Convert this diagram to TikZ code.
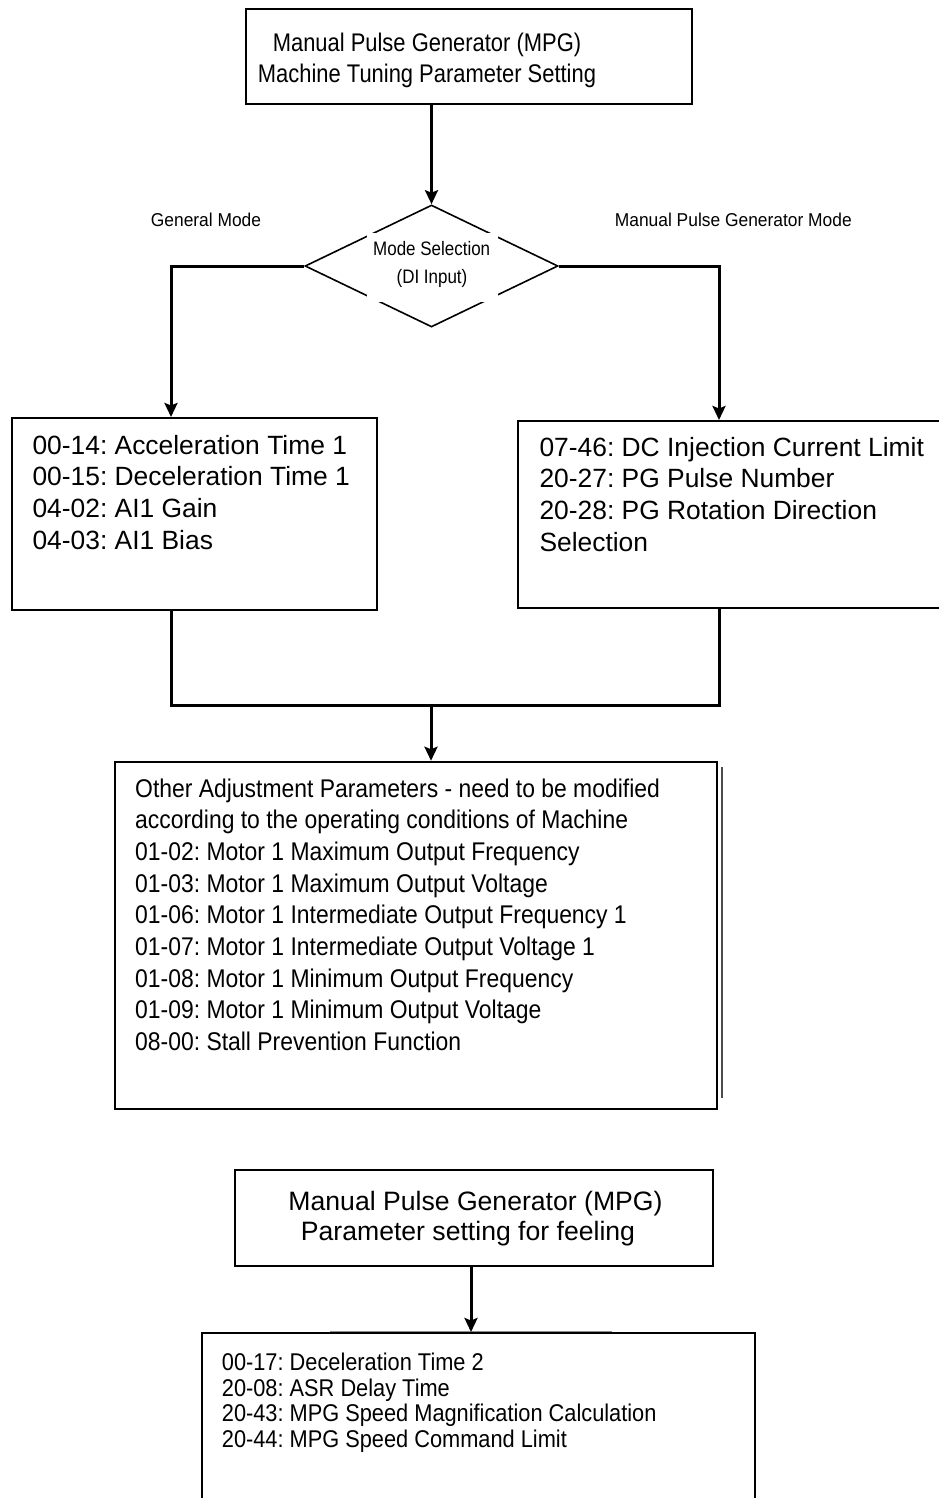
\documentclass[tikz,border=0pt]{standalone}
\usepackage{fontspec}
\setmainfont{Liberation Sans}
\newfontfamily\fTop[FakeStretch=0.86]{Liberation Sans}
\newfontfamily\fLab[FakeStretch=0.935]{Liberation Sans}
\newfontfamily\fDia[FakeStretch=0.87]{Liberation Sans}
\newfontfamily\fBig[FakeStretch=0.895]{Liberation Sans}
\newfontfamily\fBot[FakeStretch=0.9]{Liberation Sans}
\usetikzlibrary{shapes.geometric,arrows.meta}
\frenchspacing
\tikzset{
  boxn/.style={draw, line width=2pt, inner sep=0pt},
  conn/.style={line width=3pt},
  arr/.style={-{Stealth[length=14pt,width=13pt,inset=2.5pt]}},
  txt/.style={inner sep=0pt, anchor=base west},
  ctxt/.style={inner sep=0pt, anchor=base},
}
\begin{document}
\begin{tikzpicture}[x=1pt,y=-1pt]
\useasboundingbox (0,0) rectangle (938,1498);
% --- top box
\node[boxn, minimum width=446pt, minimum height=95pt] (top) at (469,56.5) {};
\node[ctxt, font=\fTop\fontsize{25.5pt}{31pt}\selectfont] (top1) at (427,51.7) {Manual Pulse Generator (MPG)};
\node[ctxt, font=\fTop\fontsize{25.5pt}{31pt}\selectfont] (top2) at (427,82.7) {Machine Tuning Parameter Setting};
% --- diamond
\node[diamond, draw, line width=1.6pt, minimum width=253pt, minimum height=122pt, inner sep=0pt] (dia) at (431.5,266) {};
\node[fill=white, minimum width=131pt, minimum height=69pt, inner sep=0pt] (mask) at (432.5,267.5) {};
\node[ctxt, font=\fDia\fontsize{19.5pt}{24pt}\selectfont] (dia1) at (431.7,255) {Mode Selection};
\node[ctxt, font=\fDia\fontsize{19.5pt}{24pt}\selectfont] (dia2) at (432,283) {(DI Input)};
\draw[conn, arr] (dia.north |- top.south) -- (dia.north);
% --- branch labels
\node[ctxt, font=\fLab\fontsize{18.6pt}{22pt}\selectfont] (labL) at (206,226.7) {General Mode};
\node[ctxt, font=\fLab\fontsize{18.6pt}{22pt}\selectfont] (labR) at (733.3,226.7) {Manual Pulse Generator Mode};
% --- left box
\node[boxn, minimum width=365pt, minimum height=192pt] (lbox) at (194.5,514) {};
\foreach \t [count=\i] in {00-14: Acceleration Time 1, 00-15: Deceleration Time 1, 04-02: AI1 Gain, 04-03: AI1 Bias}
  \node[txt, font=\fontsize{26.4pt}{32pt}\selectfont] (lt\i) at (32.3,{454+31.8*(\i-1)}) {\t};
% --- right box
\node[boxn, minimum width=427pt, minimum height=187pt] (rbox) at (731.5,514.5) {};
\foreach \t [count=\i] in {07-46: DC Injection Current Limit, 20-27: PG Pulse Number, 20-28: PG Rotation Direction, Selection}
  \node[txt, font=\fontsize{26.4pt}{32pt}\selectfont] (rt\i) at (539.3,{456+31.9*(\i-1)}) {\t};
% --- branch connectors
\draw[conn, arr] (dia.west) -| ([xshift=-23.5pt]lbox.north);
\draw[conn, arr] (dia.east) -| ([xshift=-12.5pt]rbox.north);
\coordinate (mL) at (171,705);
\coordinate (mR) at (719,705);
\coordinate (mC) at (431,705);
\draw[conn] ([xshift=-23.5pt]lbox.south) -- (mL) -- (mR) -- ([xshift=-12.5pt]rbox.south);
% --- big box
\node[draw, line width=2.5pt, inner sep=0pt, minimum width=602pt, minimum height=347pt] (big) at (416,935.5) {};
\draw[line width=2pt, black!70] ([xshift=3.5pt,yshift=-6pt]big.north east) -- ([xshift=3.5pt,yshift=12pt]big.south east);
\draw[conn, arr] (mC) -- (mC |- big.north);
\foreach \t [count=\i] in {Other Adjustment Parameters - need to be modified, according to the operating conditions of Machine, 01-02: Motor 1 Maximum Output Frequency, 01-03: Motor 1 Maximum Output Voltage, 01-06: Motor 1 Intermediate Output Frequency 1, 01-07: Motor 1 Intermediate Output Voltage 1, 01-08: Motor 1 Minimum Output Frequency, 01-09: Motor 1 Minimum Output Voltage, 08-00: Stall Prevention Function}
  \node[txt, font=\fBig\fontsize{25.6pt}{31.7pt}\selectfont] (bt\i) at (135,{797+31.7*(\i-1)}) {\t};
% --- second section
\node[boxn, minimum width=478pt, minimum height=96pt] (mid) at (474,1218) {};
\node[ctxt, font=\fontsize{26.6pt}{30pt}\selectfont] (mid1) at (475.5,1210) {Manual Pulse Generator (MPG)};
\node[ctxt, font=\fontsize{26.6pt}{30pt}\selectfont] (mid2) at (468,1240) {Parameter setting for feeling};
\node[boxn, minimum width=553pt, minimum height=200pt] (bot) at (478.5,1433) {};
\draw[line width=1.2pt, black!45] (330,1331.3) -- (612,1331.3);
\draw[conn, arr] ([xshift=-3pt]mid.south) -- ([xshift=-3pt]mid.south |- bot.north);
\foreach \t [count=\i] in {00-17: Deceleration Time 2, 20-08: ASR Delay Time, 20-43: MPG Speed Magnification Calculation, 20-44: MPG Speed Command Limit}
  \node[txt, font=\fBot\fontsize{24.2pt}{25.6pt}\selectfont] (ot\i) at (221.7,{1370.7+25.6*(\i-1)}) {\t};
\end{tikzpicture}
\end{document}
